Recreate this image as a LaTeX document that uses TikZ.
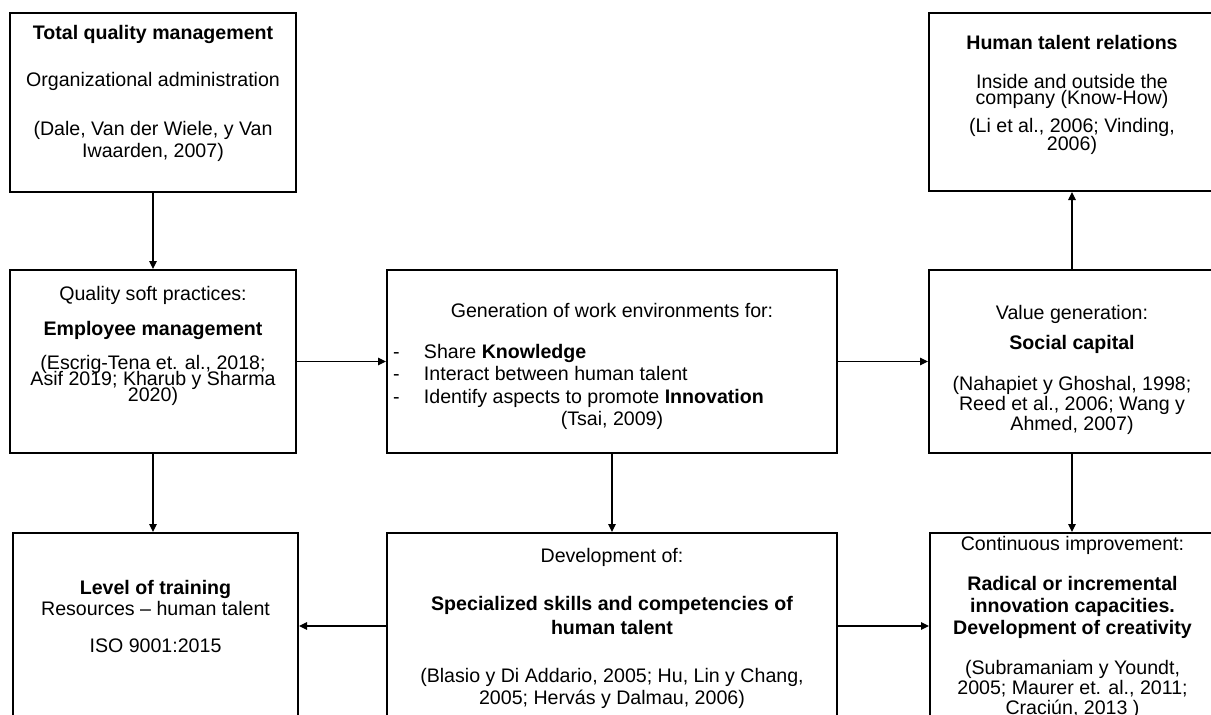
\documentclass[tikz,border=0pt]{standalone}
\usepackage{fontspec}
\setmainfont{Liberation Sans}
\usetikzlibrary{arrows.meta}
\newcommand{\bxt}[3]{\parbox[c][#2][t]{#1}{\lineskiplimit=-\maxdimen\lineskip=0pt\fontsize{19.6pt}{0pt}\selectfont\centering #3\par}}
\newcommand{\lstitem}[1]{\makebox[450pt][l]{\hspace{6pt}\makebox[31pt][l]{-}#1}}
\begin{document}
\begin{tikzpicture}[x=1pt,y=-1pt,
  box/.style={draw, line width=2pt, inner sep=0pt, outer sep=0pt},
  arr/.style={line width=1.1pt, shorten >=1pt, -{Triangle[length=8pt,width=7.5pt]}}]
\useasboundingbox (0,0) rectangle (1211,715);
\clip (0,0) rectangle (1211,715);

\node[box] (tqm) at (153,102.5) {\bxt{286pt}{179pt}{\rule{0pt}{26pt}\textbf{Total quality management}\\[47pt]Organizational administration\\[49pt](Dale, Van der Wiele, y Van\\[22pt]Iwaarden, 2007)}};

\node[box] (htr) at (1072,102) {\bxt{286pt}{178pt}{\rule{0pt}{36pt}\textbf{Human talent relations}\\[39pt]Inside and outside the\\[16pt]company (Know-How)\\[28pt](Li et al., 2006; Vinding,\\[18pt]2006)}};

\node[box] (qsp) at (153,361.5) {\bxt{286pt}{183pt}{\rule{0pt}{30pt}Quality soft practices:\\[35pt]\textbf{Employee management}\\[34pt](Escrig-Tena et. al., 2018;\\[16pt]Asif 2019; Kharub y Sharma\\[16pt]2020)}};

\node[box] (gen) at (612,361.5) {\bxt{450pt}{183pt}{\rule{0pt}{47pt}Generation of work environments for:\\[41pt]\lstitem{Share \textbf{Knowledge}}\\[22.5pt]\lstitem{Interact between human talent}\\[22.5pt]\lstitem{Identify aspects to promote \textbf{Innovation}}\\[22.5pt](Tsai, 2009)}};

\node[box] (val) at (1072,361.5) {\bxt{286pt}{183pt}{\rule{0pt}{49pt}Value generation:\\[30pt]\textbf{Social capital}\\[41pt](Nahapiet y Ghoshal, 1998;\\[20pt]Reed et al., 2006; Wang y\\[20pt]Ahmed, 2007)}};

\node[box] (lvl) at (155.5,633) {\bxt{285pt}{200pt}{\rule{0pt}{61pt}\textbf{Level of training}\\[21pt]Resources – human talent\\[37pt]ISO 9001:2015}};

\node[box] (dev) at (612,633) {\bxt{450pt}{200pt}{\rule{0pt}{29pt}Development of:\\[48pt]\textbf{Specialized skills and competencies of}\\[24pt]\textbf{human talent}\\[48pt](Blasio y Di Addario, 2005; Hu, Lin y Chang,\\[22pt]2005; Hervás y Dalmau, 2006)}};

\node[box] (cnt) at (1072.5,633) {\bxt{285pt}{200pt}{\rule{0pt}{17pt}Continuous improvement:\\[40pt]\textbf{Radical or incremental}\\[22pt]\textbf{innovation capacities.}\\[22pt]\textbf{Development of creativity}\\[40pt](Subramaniam y Youndt,\\[20pt]2005; Maurer et. al., 2011;\\[20pt]Craciún, 2013 )}};

\draw[arr] (tqm) -- (qsp);
\draw[arr] (qsp) -- (gen);
\draw[arr] (gen) -- (val);
\draw[arr] (val) -- (htr);
\draw[arr] (qsp.south) -- (qsp.south |- lvl.north);
\draw[arr] (gen) -- (dev);
\draw[arr] (val.south) -- (val.south |- cnt.north);
\draw[arr] ([yshift=-93pt]dev.north west) -- ([yshift=-93pt]lvl.north east);
\draw[arr] ([yshift=-93pt]dev.north east) -- ([yshift=-93pt]cnt.north west);
\end{tikzpicture}
\end{document}
